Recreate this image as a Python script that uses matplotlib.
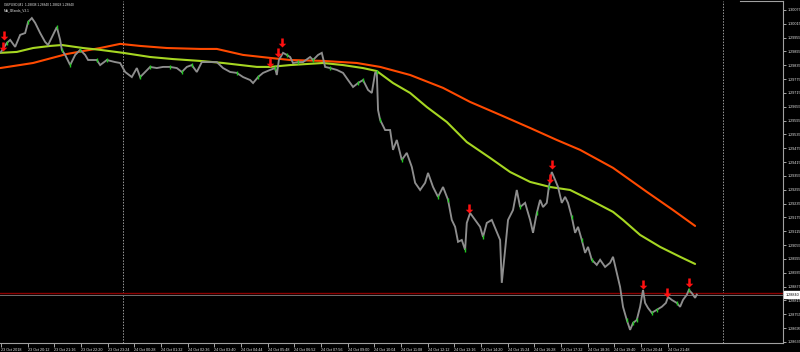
import matplotlib
matplotlib.use("Agg")
import matplotlib.pyplot as plt
from matplotlib.path import Path
import numpy as np

# ---------------- data (minutes since 23 Oct 2018 19:08, GBPUSD M1) ----------------
price_t = [0, 14, 22, 34, 46, 58, 65, 74, 82, 94, 106, 113, 125, 134, 142, 146, 154, 166, 178, 190,
           202, 209, 230, 238, 254, 274, 286, 298, 314, 326, 334, 346, 358, 374, 389, 406, 422, 434, 446, 458,
           470, 482, 502, 518, 533, 550, 566, 581, 598, 605, 617, 629, 646, 658, 662, 667, 677, 686, 694, 701,
           713, 725, 742, 749, 761, 770, 778, 790, 806, 821, 833, 845, 857, 869, 881, 890, 898, 902, 905, 910,
           922, 934, 941, 950, 962, 974, 986, 994, 1006, 1018, 1025, 1037, 1049, 1061, 1073, 1082, 1090, 1097, 1106, 1114,
           1118, 1126, 1138, 1150, 1157, 1166, 1178, 1190, 1198, 1202, 1210, 1217, 1229, 1238, 1246, 1258, 1270, 1277, 1286, 1294,
           1301, 1310, 1315, 1322, 1330, 1337, 1346, 1354, 1361, 1370, 1378, 1385, 1394, 1402, 1409, 1418, 1430, 1438, 1450, 1462,
           1469, 1478, 1486, 1493, 1502, 1510, 1517, 1526, 1534, 1541, 1546, 1553, 1562, 1574, 1586, 1596, 1601, 1610, 1622, 1630,
           1637, 1646, 1651, 1658, 1666, 1670]
price_p = [1.29893, 1.29932, 1.29945, 1.29915, 1.29967, 1.29975, 1.30023, 1.30040, 1.30019, 1.29975,
           1.29936, 1.29923, 1.29967, 1.30001, 1.29945, 1.29902, 1.29880, 1.29836, 1.29880, 1.29902,
           1.29880, 1.29858, 1.29858, 1.29836, 1.29858, 1.29849, 1.29845, 1.29806, 1.29784, 1.29823,
           1.29784, 1.29806, 1.29828, 1.29823, 1.29828, 1.29828, 1.29823, 1.29806, 1.29828, 1.29836,
           1.29806, 1.29849, 1.29849, 1.29849, 1.29823, 1.29806, 1.29802, 1.29784, 1.29771, 1.29758,
           1.29784, 1.29802, 1.29815, 1.29823, 1.29793, 1.29858, 1.29889, 1.29880, 1.29871, 1.29845,
           1.29849, 1.29849, 1.29871, 1.29858, 1.29880, 1.29889, 1.29828, 1.29823, 1.29815, 1.29802,
           1.29771, 1.29741, 1.29758, 1.29771, 1.29728, 1.29715, 1.29802, 1.29806, 1.29641, 1.29598,
           1.29554, 1.29554, 1.29468, 1.29511, 1.29424, 1.29455, 1.29394, 1.29325, 1.29294, 1.29325,
           1.29368, 1.29307, 1.29264, 1.29307, 1.29251, 1.29164, 1.29134, 1.29069, 1.29077, 1.29034,
           1.29151, 1.29194, 1.29164, 1.29134, 1.29090, 1.29151, 1.29164, 1.29112, 1.29077, 1.28891,
           1.29034, 1.29164, 1.29207, 1.29294, 1.29220, 1.29238, 1.29164, 1.29108, 1.29194, 1.29251,
           1.29220, 1.29238, 1.29307, 1.29372, 1.29338, 1.29307, 1.29238, 1.29264, 1.29238, 1.29177,
           1.29108, 1.29134, 1.29077, 1.29021, 1.29047, 1.28991, 1.28969, 1.28991, 1.28960, 1.28978,
           1.29004, 1.28934, 1.28873, 1.28787, 1.28730, 1.28687, 1.28717, 1.28730, 1.28787, 1.28860,
           1.28804, 1.28782, 1.28761, 1.28774, 1.28787, 1.28804, 1.28830, 1.28817, 1.28804, 1.28787,
           1.28817, 1.28839, 1.28860, 1.28847, 1.28826, 1.28840]
# indices of bars drawn as green (up) candles
green_idx = [1, 6, 13, 15, 17, 19, 22, 24, 30, 32, 35, 37, 39, 46, 50, 53, 57, 60, 63, 67,
             72, 73, 77, 79, 84, 92, 94, 99, 104, 114, 118, 122, 129, 132, 135, 144, 146, 147, 152, 153,
             158, 162]

ma_fast_t = [-2, 38, 77, 118, 146, 197, 238, 293, 358, 413, 478, 533, 614, 646, 694, 773, 821, 869, 902,
             941, 982, 1022, 1070, 1118, 1174, 1222, 1270, 1318, 1366, 1414, 1469, 1493, 1534, 1582, 1630, 1666]
ma_fast_p = [1.29889, 1.29893, 1.29910, 1.29919, 1.29923, 1.29910, 1.29902, 1.29889, 1.29871, 1.29862,
             1.29854, 1.29845, 1.29828, 1.29828, 1.29836, 1.29845, 1.29836, 1.29823, 1.29810,
             1.29758, 1.29715, 1.29654, 1.29589, 1.29502, 1.29433, 1.29372, 1.29329, 1.29307, 1.29294,
             1.29251, 1.29199, 1.29164, 1.29099, 1.29047, 1.29004, 1.28973]

ma_slow_t = [-2, 77, 158, 238, 286, 334, 398, 478, 518, 581, 646, 694, 773, 854, 910, 982, 1061, 1126,
             1198, 1270, 1334, 1390, 1469, 1550, 1613, 1666]
ma_slow_p = [1.29823, 1.29845, 1.29884, 1.29910, 1.29928, 1.29919, 1.29910, 1.29906, 1.29906, 1.29880,
             1.29867, 1.29858, 1.29854, 1.29845, 1.29828, 1.29793, 1.29737, 1.29676,
             1.29620, 1.29563, 1.29511, 1.29468, 1.29390, 1.29286, 1.29207, 1.29138]

arrow_t = [7, 5, 646, 665, 674, 1123, 1322, 1318, 1541, 1598, 1651]
arrow_p = [1.29945, 1.29897, 1.29828, 1.29871, 1.29915, 1.29194, 1.29385, 1.29325, 1.28864, 1.28830, 1.28873]

day_separators = [292, 1732]
ask_price = 1.28846
bid_price = 1.28840

x_ticks = [0, 64, 128, 192, 256, 320, 384, 448, 512, 576, 640, 704, 768, 832, 896, 960,
           1024, 1088, 1152, 1216, 1280, 1344, 1408, 1472, 1536, 1600]
x_labels = ["23 Oct 2018", "23 Oct 20:12", "23 Oct 21:16", "23 Oct 22:20", "23 Oct 23:24",
            "24 Oct 00:28", "24 Oct 01:32", "24 Oct 02:36", "24 Oct 03:40", "24 Oct 04:44",
            "24 Oct 05:48", "24 Oct 06:52", "24 Oct 07:56", "24 Oct 09:00", "24 Oct 10:04",
            "24 Oct 11:08", "24 Oct 12:12", "24 Oct 13:16", "24 Oct 14:20", "24 Oct 15:24",
            "24 Oct 16:28", "24 Oct 17:32", "24 Oct 18:36", "24 Oct 19:40", "24 Oct 20:44",
            "24 Oct 21:48"]
y_ticks = [1.30075, 1.30015, 1.29955, 1.29895, 1.29835, 1.29775, 1.29715, 1.29655, 1.29595,
           1.29535, 1.29475, 1.29415, 1.29355, 1.29295, 1.29235, 1.29175, 1.29115, 1.29055,
           1.28995, 1.28935, 1.28875, 1.28815, 1.28755, 1.28695, 1.28635]

header1 = "GBPUSD,M1  1.28838 1.28840 1.28828 1.28840"
header2 = "MA_3Bands_V3.1"

# ---------------- figure ----------------
plt.rcParams['font.family'] = ['Liberation Sans', 'DejaVu Sans']
fig = plt.figure(figsize=(8, 3.52), dpi=100, facecolor='black')
ax = fig.add_axes([0, 9 / 352, 783 / 800, 342 / 352])
ax.set_facecolor('black')

ax.set_xlim(-2.4, 1877)
ax.set_ylim(1.28630, 1.30114)

for d in day_separators:
    ax.axvline(d, color='#9a9a9a', lw=0.7, ls=(0, (1.5, 1.5)), zorder=1)

ax.axhline(ask_price, color='#8b0000', lw=1.0, zorder=2)
ax.axhline(bid_price, color='#707070', lw=0.7, zorder=2)

ax.plot(ma_slow_t, ma_slow_p, color='#ff4a00', lw=1.5, zorder=3, solid_capstyle='round')
ax.plot(ma_fast_t, ma_fast_p, color='#a6d622', lw=1.5, zorder=3, solid_capstyle='round')

ax.plot(price_t, price_p, color='#8e8e8e', lw=1.35, zorder=4, solid_joinstyle='miter')
ax.scatter([price_t[i] for i in green_idx], [price_p[i] for i in green_idx],
           marker='|', s=10, linewidths=1.0, color='#22c822', zorder=5)

# red down arrows: tip at the data point
arrow_verts = [(0, 0), (-0.42, 0.42), (-0.14, 0.42), (-0.14, 1.0), (0.14, 1.0), (0.14, 0.42), (0.42, 0.42), (0, 0)]
arrow_path = Path(arrow_verts, [Path.MOVETO] + [Path.LINETO] * 6 + [Path.CLOSEPOLY])
ax.scatter(arrow_t, arrow_p, marker=arrow_path, s=13 ** 2, color='#ff1010', linewidths=0, zorder=6)

# axes styling
for side in ['left', 'top']:
    ax.spines[side].set_visible(False)
for side in ['right', 'bottom']:
    ax.spines[side].set_color('#a0a0a0')
    ax.spines[side].set_linewidth(0.8)
ax.plot([0.945, 1.0], [1.0, 1.0], transform=ax.transAxes, color='#a0a0a0', lw=0.8, clip_on=False)

ax.yaxis.tick_right()
ax.set_yticks(y_ticks)
ax.set_yticklabels([f"{v:.5f}" for v in y_ticks])
ax.tick_params(axis='y', colors='#e6e6e6', labelsize=2.7, length=2, width=0.5, pad=1.0)

ax.set_xticks(x_ticks)
ax.set_xticklabels(x_labels, ha='left')
ax.tick_params(axis='x', colors='#e6e6e6', labelsize=2.7, length=3, width=0.5, pad=0.5)

# current bid price label box
ax.text(1.003, bid_price, f"{bid_price:.5f}", transform=ax.get_yaxis_transform(),
        ha='left', va='center', fontsize=2.7, color='black',
        bbox=dict(boxstyle='square,pad=0.3', fc='white', ec='white'), zorder=10, clip_on=False)

ax.text(0.005, 0.997, header1, transform=ax.transAxes, ha='left', va='top', fontsize=2.3, color='#e6e6e6')
ax.text(0.005, 0.977, header2, transform=ax.transAxes, ha='left', va='top', fontsize=2.3, color='#e6e6e6')

fig.savefig('out.png', dpi=100, facecolor='black')
